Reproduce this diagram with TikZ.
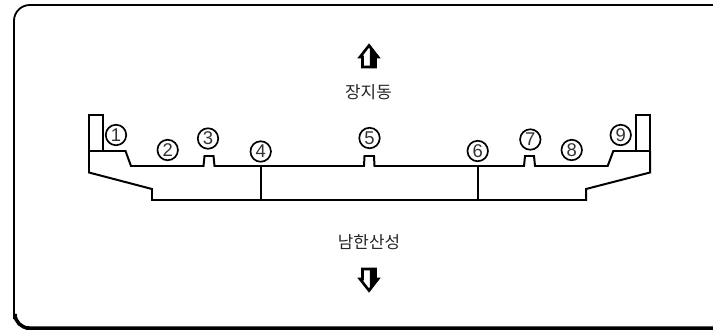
\documentclass[tikz,border=0pt]{standalone}
\usepackage{fontspec}
\setmainfont{Liberation Sans}
\newfontfamily\krfont{Noto Sans CJK KR}
\tikzset{wall/.style = {line width = 1.13pt, line join = miter}}
\tikzset{num/.style = {draw, circle, line width = 0.95pt, inner sep = 0, minimum size = 0.41cm, font = \fontsize{10.5}{11}\selectfont, text = black!80}}
\tikzset{place/.style = {inner sep = 0, font = \krfont\fontsize{9.6}{11}\selectfont, text = black!85}}
\newcommand{\halfarrow}[2]{
	\begin{scope}[shift = {(#1)}, yscale = #2]
		\draw [line width = 1.5pt, line join = miter] (0,-11) -- (9,0.5) -- (6.5,0.5) -- (6.5,10.5) -- (-6.5,10.5) -- (-6.5,0.5) -- (-9,0.5) -- cycle;
		\fill [black] (0.8,-12) -- (10,0.5) -- (7,0.5) -- (7,11) -- (0.8,11) -- cycle;
	\end{scope}
}

\begin{document}
\begin{tikzpicture}[x = 0.02cm, y = -0.02cm]
	\useasboundingbox (0,0) rectangle (713,332);
	% frame
	\draw [line width = 1.05pt, rounded corners = 9] (713,5) -- (14,5) -- (14,328) -- (713,328);
	\draw [line width = 2pt, rounded corners = 8] (15,319) -- (15,328) -- (40,328) -- (713,328);
	% road section
	\draw [wall] (89,151) -- (89,115) -- (103,115) -- (103,151);
	\draw [wall] (636,151) -- (636,115) -- (650,115) -- (650,151);
	\draw [wall] (89,151) -- (89,172.5) -- (152,189) -- (152,200) -- (586,200) -- (586,189) -- (650,172.5) -- (650,151);
	\draw [wall] (89,151) -- (125.5,151) -- (131,166) -- (203.5,166) -- (204.5,156) -- (213.5,156) -- (214.5,166)
		-- (364,166) -- (364.5,156) -- (374,156) -- (374.5,166)
		-- (524,166) -- (525,156) -- (534,156) -- (535,166)
		-- (607.7,166) -- (613.3,151) -- (650,151);
	\draw [wall] (261,166) -- (261,200);
	\draw [wall] (478,166) -- (478,200);
	% numbers
	\node [num] (n1) at (116,135) {1};
	\node [num] (n2) at (167.7,150) {2};
	\node [num] (n3) at (208,138.5) {3};
	\node [num] (n4) at (260.7,151.5) {4};
	\node [num] (n5) at (369.5,138) {5};
	\node [num] (n6) at (477.7,151) {6};
	\node [num] (n7) at (530.3,139.5) {7};
	\node [num] (n8) at (571.7,150) {8};
	\node [num] (n9) at (620.7,135) {9};
	% directions
	\halfarrow{369,56.5}{1}
	\halfarrow{369,279.5}{-1}
	\node [place] (north) at (368.5,92) {장지동};
	\node [place] (south) at (369,242) {남한산성};
\end{tikzpicture}
\end{document}
